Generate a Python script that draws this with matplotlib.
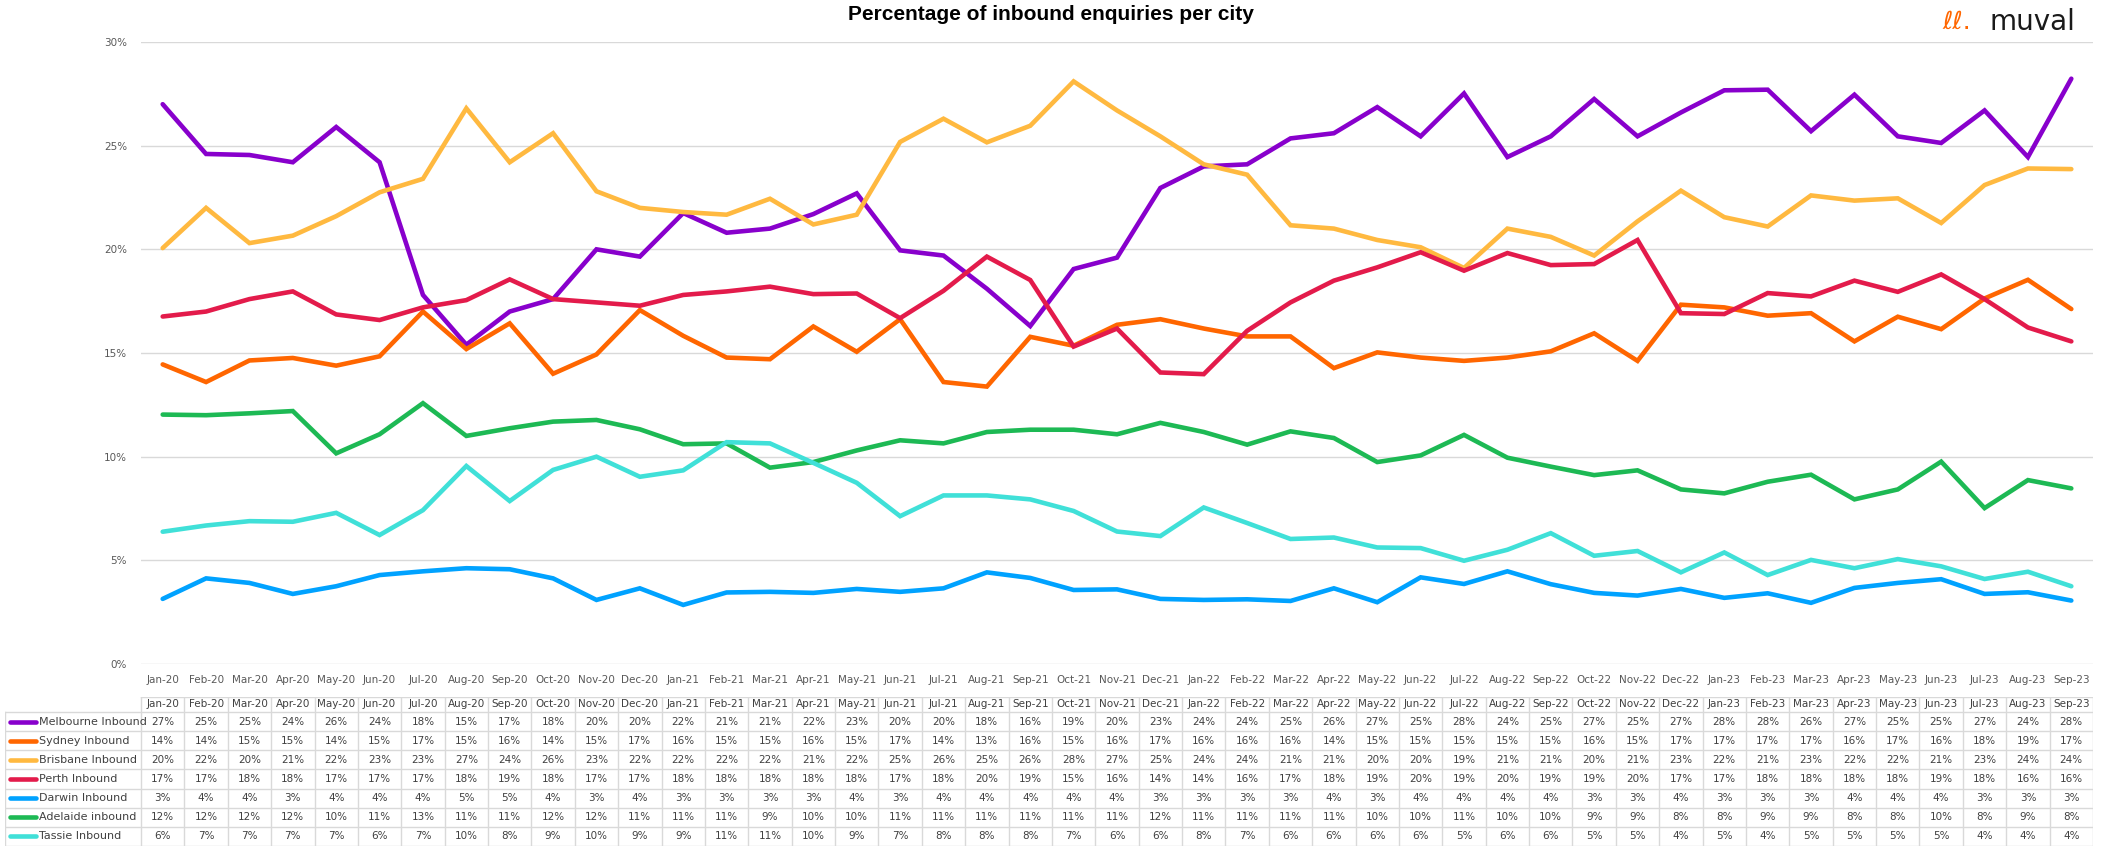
import numpy as np
import matplotlib
matplotlib.use('Agg')
import matplotlib.pyplot as plt

months = ['Jan-20', 'Feb-20', 'Mar-20', 'Apr-20', 'May-20', 'Jun-20', 'Jul-20', 'Aug-20', 'Sep-20',
          'Oct-20', 'Nov-20', 'Dec-20', 'Jan-21', 'Feb-21', 'Mar-21', 'Apr-21', 'May-21', 'Jun-21',
          'Jul-21', 'Aug-21', 'Sep-21', 'Oct-21', 'Nov-21', 'Dec-21', 'Jan-22', 'Feb-22', 'Mar-22',
          'Apr-22', 'May-22', 'Jun-22', 'Jul-22', 'Aug-22', 'Sep-22', 'Oct-22', 'Nov-22', 'Dec-22',
          'Jan-23', 'Feb-23', 'Mar-23', 'Apr-23', 'May-23', 'Jun-23', 'Jul-23', 'Aug-23', 'Sep-23']

# значения в процентах
melbourne = [27.0, 24.6, 24.55, 24.2, 25.9, 24.2, 17.8, 15.4, 17.0, 17.6, 20.0, 19.65, 21.75,
             20.8, 21.0, 21.7, 22.7, 19.95, 19.7, 18.1, 16.3, 19.05, 19.6, 22.96, 24.0, 24.1, 25.35,
             25.6, 26.86, 25.45, 27.52, 24.45, 25.45, 27.25, 25.45, 26.6, 27.67, 27.7, 25.7, 27.46,
             25.45, 25.13, 26.7, 24.45, 28.23]
sydney = [14.45, 13.6, 14.64, 14.76, 14.39, 14.84, 17.0, 15.19, 16.43, 14.0, 14.93, 17.07, 15.83,
          14.78, 14.7, 16.28, 15.06, 16.63, 13.6, 13.38, 15.78, 15.35, 16.36, 16.63, 16.18, 15.8, 15.8,
          14.27, 15.03, 14.78, 14.62, 14.78, 15.08, 15.95, 14.62, 17.33, 17.2, 16.8, 16.92, 15.56,
          16.75, 16.15, 17.63, 18.53, 17.12]
brisbane = [20.06, 22.0, 20.3, 20.66, 21.6, 22.75, 23.4, 26.8, 24.2, 25.6, 22.8, 22.0, 21.8,
            21.67, 22.44, 21.2, 21.67, 25.18, 26.3, 25.16, 25.96, 28.1, 26.7, 25.45, 24.1, 23.6, 21.16,
            21.0, 20.45, 20.1, 19.1, 21.0, 20.6, 19.7, 21.35, 22.83, 21.55, 21.1, 22.6, 22.35,
            22.46, 21.27, 23.1, 23.9, 23.87]
perth = [16.76, 17.0, 17.6, 17.97, 16.86, 16.59, 17.2, 17.55, 18.55, 17.6, 17.44, 17.28, 17.8,
         17.97, 18.2, 17.84, 17.87, 16.68, 18.0, 19.65, 18.52, 15.31, 16.18, 14.06, 13.98, 16.07, 17.44,
         18.49, 19.13, 19.86, 18.97, 19.82, 19.24, 19.29, 20.45, 16.92, 16.88, 17.89, 17.73, 18.49,
         17.95, 18.79, 17.6, 16.23, 15.56]
darwin = [3.14, 4.13, 3.91, 3.38, 3.75, 4.29, 4.47, 4.62, 4.57, 4.13, 3.09, 3.65, 2.85,
          3.45, 3.48, 3.43, 3.62, 3.48, 3.65, 4.42, 4.15, 3.57, 3.6, 3.14, 3.09, 3.12, 3.04,
          3.65, 2.98, 4.18, 3.86, 4.47, 3.85, 3.43, 3.3, 3.62, 3.19, 3.41, 2.95, 3.67,
          3.91, 4.09, 3.38, 3.46, 3.06]
adelaide = [12.03, 12.0, 12.09, 12.2, 10.16, 11.08, 12.58, 11.0, 11.37, 11.69, 11.77, 11.32, 10.6,
            10.64, 9.47, 9.74, 10.3, 10.79, 10.64, 11.19, 11.3, 11.3, 11.08, 11.63, 11.19, 10.58, 11.22,
            10.9, 9.74, 10.06, 11.05, 9.95, 9.52, 9.11, 9.34, 8.42, 8.23, 8.79, 9.13, 7.94,
            8.42, 9.76, 7.52, 8.87, 8.47]
tassie = [6.38, 6.68, 6.89, 6.86, 7.29, 6.22, 7.42, 9.55, 7.86, 9.36, 10.0, 9.03, 9.34,
          10.7, 10.64, 9.7, 8.74, 7.13, 8.13, 8.13, 7.94, 7.38, 6.39, 6.17, 7.55, 6.8, 6.03,
          6.1, 5.62, 5.59, 4.98, 5.51, 6.31, 5.22, 5.45, 4.42, 5.38, 4.29, 5.02, 4.62,
          5.06, 4.71, 4.1, 4.45, 3.75]

series_names = ['Melbourne Inbound', 'Sydney Inbound', 'Brisbane Inbound', 'Perth Inbound',
                'Darwin Inbound', 'Adelaide inbound', 'Tassie Inbound']
series_values = [melbourne, sydney, brisbane, perth, darwin, adelaide, tassie]
colors = ['#8800CC', '#FF6600', '#FFB940', '#E31B4B', '#00A2FF', '#1DB954', '#40E0D8']

W, H = 2103, 852
fig = plt.figure(figsize=(W / 100, H / 100), dpi=100)

# основной график
x0, x1 = 141, 2093
ax = fig.add_axes([x0 / W, 1 - 664 / H, (x1 - x0) / W, (664 - 42) / H])
x = np.arange(len(months))
for vals, c in zip(series_values, colors):
    ax.plot(x, vals, color=c, linewidth=3.3, solid_capstyle='round', solid_joinstyle='miter')

ax.set_xlim(-0.5, len(months) - 0.5)
ax.set_ylim(0, 30)
ax.set_yticks([0, 5, 10, 15, 20, 25, 30])
ax.set_yticklabels([f'{t}%' for t in [0, 5, 10, 15, 20, 25, 30]])
ax.set_xticks(x)
ax.set_xticklabels(months)
ax.tick_params(axis='both', length=0, labelsize=7.5, labelcolor='#595959')
ax.tick_params(axis='x', pad=8)
ax.tick_params(axis='y', pad=10)
ax.grid(axis='y', color='#D9D9D9', linewidth=1)
ax.set_axisbelow(True)
for s in ax.spines.values():
    s.set_visible(False)

# таблица с данными
lab_w = (x0 - 5) / ((x1 - x0) / len(months))
h0 = 0.78
n_rows = len(series_names)
tax = fig.add_axes([5 / W, 1 - 846 / H, (x1 - 5) / W, (846 - 697) / H])
tax.set_xlim(-0.5 - lab_w, len(months) - 0.5)
tax.set_ylim(h0 + n_rows, 0)
tax.axis('off')
grid_c = '#D9D9D9'
tax.plot([-0.5, len(months) - 0.5], [0, 0], color=grid_c, lw=1)
for r in range(n_rows + 1):
    tax.plot([-0.5 - lab_w, len(months) - 0.5], [h0 + r, h0 + r], color=grid_c, lw=1)
for k in range(len(months) + 1):
    tax.plot([k - 0.5, k - 0.5], [0, h0 + n_rows], color=grid_c, lw=1)
tax.plot([-0.5 - lab_w] * 2, [h0, h0 + n_rows], color=grid_c, lw=1)

for i, m in enumerate(months):
    tax.text(i, h0 / 2, m, ha='center', va='center', fontsize=7.5, color='#404040')
for r, (name, vals, c) in enumerate(zip(series_names, series_values, colors)):
    yc = h0 + r + 0.5
    tax.plot([-0.5 - lab_w + 0.12, -0.5 - lab_w + 0.72], [yc, yc], color=c, lw=3.3,
             solid_capstyle='round')
    tax.text(-0.5 - lab_w + 0.78, yc, name, ha='left', va='center', fontsize=8, color='#404040')
    for i, v in enumerate(vals):
        tax.text(i, yc, f'{int(np.floor(v + 0.5))}%', ha='center', va='center',
                 fontsize=7.5, color='#404040')

# заголовок и логотип
fig.text(1051 / W, 1 - 14 / H, 'Percentage of inbound enquiries per city', ha='center', va='center',
         fontsize=15, fontweight='bold', family=['Liberation Sans', 'DejaVu Sans'])
fig.text(1990 / W, 1 - 22 / H, 'muval', ha='left', va='center', fontsize=20, color='#1a1a1a')
fig.text(1942 / W, 1 - 22 / H, 'ℓℓ.', ha='left', va='center', fontsize=18, color='#FF6600')

fig.savefig('out.png', dpi=100)
